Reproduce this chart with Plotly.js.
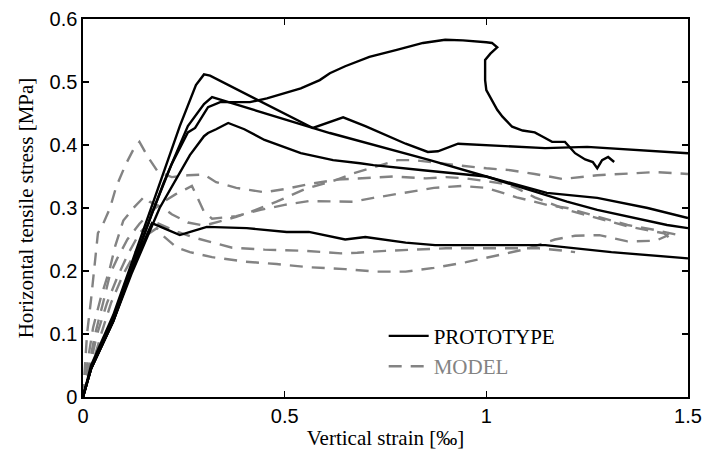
<!DOCTYPE html>
<html>
<head>
<meta charset="utf-8">
<script src="https://cdn.plot.ly/plotly-3.0.1.min.js"></script>
<style>html,body{margin:0;padding:0;background:#fff;}#chart{width:705px;height:455px;}</style>
</head>
<body>
<div id="chart"></div>
<script>
// ---- Prototype (experimental) curves ----
const p1x = [0,0.02,0.075,0.12,0.18,0.24,0.28,0.30,0.315,0.57,0.645,0.70,0.80,0.855,0.88,0.93,1.00,1.146,1.25,1.376,1.5];
const p1y = [0,0.05,0.13,0.21,0.32,0.43,0.495,0.512,0.51,0.427,0.444,0.43,0.402,0.389,0.39,0.402,0.40,0.395,0.397,0.392,0.387];

const p2x = [0,0.02,0.075,0.12,0.20,0.26,0.30,0.32,0.612,0.86,1.00,1.10,1.20,1.275,1.36,1.448,1.5];
const p2y = [0,0.045,0.125,0.205,0.34,0.43,0.465,0.476,0.419,0.376,0.35,0.33,0.31,0.297,0.285,0.273,0.268];

const p3x = [0,0.02,0.075,0.12,0.17,0.22,0.26,0.278,0.29,0.31,0.34,0.38,0.414,0.456,0.50,0.54,0.587,0.612,0.65,0.687,0.71,0.778,0.843,0.898,0.942,1.00,1.014,1.027,1.01,0.997,0.997,1.00,1.01,1.027,1.04,1.064,1.09,1.12,1.14,1.163,1.195,1.22,1.245,1.264,1.275,1.287,1.302,1.317];
const p3y = [0,0.045,0.12,0.20,0.29,0.37,0.42,0.427,0.44,0.46,0.468,0.468,0.468,0.474,0.482,0.49,0.503,0.514,0.525,0.535,0.54,0.551,0.562,0.567,0.566,0.563,0.562,0.555,0.545,0.535,0.503,0.487,0.476,0.456,0.445,0.429,0.423,0.42,0.413,0.405,0.405,0.387,0.377,0.373,0.363,0.376,0.381,0.373];

const p4x = [0,0.02,0.075,0.12,0.19,0.265,0.30,0.31,0.33,0.36,0.40,0.45,0.54,0.62,0.687,0.72,0.843,1.00,1.15,1.275,1.40,1.5];
const p4y = [0,0.045,0.12,0.195,0.30,0.384,0.414,0.419,0.425,0.435,0.425,0.408,0.387,0.376,0.371,0.368,0.36,0.35,0.324,0.316,0.30,0.284];

const p5x = [0,0.02,0.075,0.12,0.16,0.171,0.20,0.24,0.27,0.307,0.406,0.505,0.56,0.62,0.65,0.70,0.80,0.873,1.01,1.146,1.31,1.5];
const p5y = [0,0.045,0.12,0.20,0.26,0.276,0.268,0.257,0.263,0.27,0.268,0.262,0.262,0.254,0.25,0.254,0.245,0.241,0.241,0.241,0.23,0.22];

// ---- Model curves ----
const m1x = [0,0.005,0.01,0.02,0.027,0.033,0.037,0.05,0.067,0.082,0.105,0.125,0.14,0.16,0.185,0.22,0.26,0.30,0.33,0.38,0.45,0.50,0.56,0.63,0.70,0.77,0.85,0.90,0.95,1.00,1.05,1.08,1.12,1.20,1.29,1.356,1.44,1.455];
const m1y = [0,0.06,0.10,0.155,0.20,0.23,0.26,0.275,0.30,0.333,0.368,0.393,0.405,0.382,0.358,0.349,0.352,0.353,0.341,0.332,0.325,0.33,0.338,0.345,0.348,0.35,0.347,0.349,0.347,0.343,0.338,0.33,0.317,0.297,0.281,0.27,0.26,0.252];

const m2x = [0,0.01,0.025,0.045,0.065,0.08,0.10,0.125,0.152,0.165,0.20,0.22,0.26,0.30,0.335,0.38,0.42,0.48,0.55,0.63,0.67,0.71,0.78,0.82,0.87,0.94,1.00,1.06,1.12,1.19,1.275,1.35,1.42,1.5];
const m2y = [0,0.05,0.11,0.16,0.20,0.24,0.28,0.30,0.318,0.31,0.30,0.29,0.277,0.272,0.278,0.286,0.295,0.31,0.33,0.345,0.355,0.363,0.376,0.376,0.372,0.367,0.363,0.36,0.354,0.346,0.352,0.354,0.357,0.354];

const m3x = [0,0.015,0.03,0.05,0.067,0.085,0.11,0.14,0.17,0.20,0.23,0.255,0.27,0.285,0.30,0.32,0.38,0.44,0.50,0.56,0.62,0.67,0.72,0.80,0.87,0.94,1.00,1.075,1.15,1.20,1.28,1.35,1.42,1.47];
const m3y = [0,0.05,0.10,0.15,0.195,0.22,0.25,0.275,0.295,0.31,0.322,0.33,0.335,0.315,0.294,0.283,0.287,0.297,0.305,0.311,0.31,0.31,0.316,0.325,0.332,0.335,0.332,0.317,0.305,0.30,0.285,0.273,0.265,0.258];

const m4x = [0,0.015,0.035,0.06,0.085,0.11,0.14,0.17,0.20,0.235,0.27,0.30,0.37,0.45,0.55,0.64,0.68,0.75,0.84,0.90,0.96,1.05,1.13,1.18,1.22];
const m4y = [0,0.045,0.10,0.15,0.19,0.225,0.26,0.28,0.272,0.262,0.254,0.249,0.237,0.234,0.232,0.228,0.229,0.232,0.235,0.236,0.236,0.236,0.236,0.233,0.23];

const m5x = [0,0.02,0.045,0.07,0.10,0.13,0.16,0.183,0.20,0.233,0.265,0.32,0.40,0.48,0.56,0.65,0.73,0.80,0.87,0.95,1.03,1.10,1.17,1.22,1.28,1.35,1.42,1.445,1.455];
const m5y = [0,0.045,0.10,0.15,0.195,0.23,0.258,0.268,0.255,0.237,0.23,0.222,0.215,0.211,0.206,0.203,0.199,0.199,0.205,0.214,0.225,0.235,0.25,0.256,0.257,0.247,0.248,0.255,0.262];

const xTicks = [0, 0.5, 1, 1.5];
const xTickText = ['0', '0.5', '1', '1.5'];
const yTicks = [0, 0.1, 0.2, 0.3, 0.4, 0.5, 0.6];
const yTickText = ['0', '0.1', '0.2', '0.3', '0.4', '0.5', '0.6'];

const GRAY = '#838383';
const protoLine = {color: '#000', width: 2.4};
const modelLine = {color: GRAY, width: 2.4, dash: '13px,9px'};

const models = [[m1x,m1y],[m2x,m2y],[m3x,m3y],[m4x,m4y],[m5x,m5y]];
const protos = [[p1x,p1y],[p2x,p2y],[p3x,p3y],[p4x,p4y],[p5x,p5y]];

const traces = [];
models.forEach((m, i) => traces.push({
  x: m[0], y: m[1], type: 'scatter', mode: 'lines', line: modelLine,
  name: '<span style="color:' + GRAY + '">MODEL</span>', legendgroup: 'model', showlegend: i === 0, legendrank: 2
}));
protos.forEach((p, i) => traces.push({
  x: p[0], y: p[1], type: 'scatter', mode: 'lines', line: protoLine,
  name: 'PROTOTYPE', legendgroup: 'proto', showlegend: i === 0, legendrank: 1
}));

const layout = {
  width: 705, height: 455,
  margin: {l: 83, r: 17, t: 19, b: 58, pad: 0},
  paper_bgcolor: '#fff', plot_bgcolor: '#fff',
  showlegend: true,
  legend: {
    x: 0.497, y: 0.215, xanchor: 'left', yanchor: 'top',
    bgcolor: 'rgba(0,0,0,0)', borderwidth: 0,
    font: {family: 'Liberation Serif, Times New Roman, serif', size: 21, color: '#000'},
    traceorder: 'normal', itemwidth: 40, tracegroupgap: 0
  },
  xaxis: {
    range: [0, 1.5], tickvals: xTicks, ticktext: xTickText,
    ticks: 'inside', ticklen: 6, tickwidth: 1.3, tickcolor: '#000',
    showline: true, linecolor: '#000', linewidth: 1.6, mirror: 'ticks',
    showgrid: false, zeroline: false,
    tickfont: {family: 'Liberation Sans, Arial, sans-serif', size: 20, color: '#000'},
    title: {text: 'Vertical strain [‰]', font: {family: 'Liberation Serif, Times New Roman, serif', size: 21, color: '#000'}, standoff: 5}
  },
  yaxis: {
    range: [0, 0.6], tickvals: yTicks, ticktext: yTickText,
    ticks: 'inside', ticklen: 6, tickwidth: 1.3, tickcolor: '#000',
    showline: true, linecolor: '#000', linewidth: 1.6, mirror: 'ticks',
    showgrid: false, zeroline: false,
    tickfont: {family: 'Liberation Sans, Arial, sans-serif', size: 20, color: '#000'},
    title: {text: 'Horizontal tensile stress [MPa]', font: {family: 'Liberation Serif, Times New Roman, serif', size: 21, color: '#000'}, standoff: 10}
  }
};

Plotly.newPlot('chart', traces, layout, {staticPlot: true, displayModeBar: false});
</script>
</body>
</html>
